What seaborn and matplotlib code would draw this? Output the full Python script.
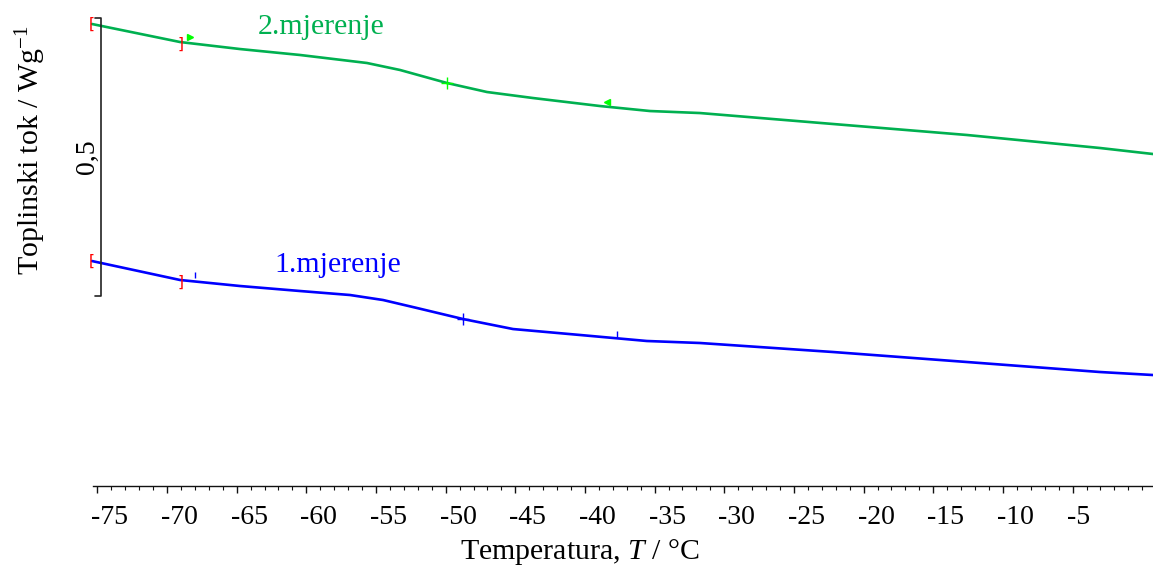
import numpy as np
import pandas as pd
import matplotlib
matplotlib.use("Agg")
import matplotlib.pyplot as plt
import matplotlib.transforms as mtransforms
from matplotlib.ticker import MultipleLocator, FixedLocator
import seaborn as sns

# ---- data ----
temp_2 = [-75.38, -69.06, -64.76, -60.45, -55.65, -53.27, -49.9, -47.03,
          -43.73, -38.92, -35.33, -31.75, -22.2, -12.58, -3.03, 0.77]
flow_2 = [0.7892, 0.7568, 0.7442, 0.7335, 0.7191, 0.7065, 0.6831, 0.6669,
          0.6561, 0.6417, 0.6327, 0.6291, 0.6094, 0.5896, 0.5662, 0.5554]
temp_1 = [-75.38, -69.06, -64.76, -60.45, -56.86, -54.49, -52.05, -48.75,
          -45.16, -40.35, -35.56, -31.75, -22.2, -12.58, -3.03, 0.77]
flow_1 = [0.3629, 0.3288, 0.3180, 0.3090, 0.3018, 0.2928, 0.2784, 0.2586,
          0.2406, 0.2299, 0.2191, 0.2155, 0.1993, 0.1813, 0.1633, 0.1579]
series_names = ["2.mjerenje", "1.mjerenje"]
series_colors = ["#00B050", "#0000FF"]
marker_colors = ["#00FF00", "#0000FF"]
# glass transition analysis points (onset, midpoint, end) per series
tg_onset = [-68.35, -68.0]
tg_mid = [-49.9, -48.75]
tg_end = [-38.4, -37.7]
x_ticks = list(range(-75, 0, 5))
scale_bar_value = 0.5
scale_bar_label = "0,5"

sns.set_style("white")
plt.rcParams["font.family"] = ["Liberation Serif", "DejaVu Serif"]
plt.rcParams["mathtext.fontset"] = "custom"
plt.rcParams["mathtext.rm"] = "Liberation Serif"
plt.rcParams["mathtext.it"] = "Liberation Serif:italic"
plt.rcParams["text.color"] = "black"
plt.rcParams["xtick.color"] = "black"
plt.rcParams["xtick.labelcolor"] = "black"

df = pd.concat([
    pd.DataFrame({"T": temp_2, "q": flow_2, "s": series_names[0]}),
    pd.DataFrame({"T": temp_1, "q": flow_1, "s": series_names[1]}),
])

W, H = 1153, 572
fig = plt.figure(figsize=(W / 100, H / 100), dpi=100)
ax = fig.add_axes([93 / W, (H - 486) / H, 1 - 93 / W, 486 / H])

sns.lineplot(data=df, x="T", y="q", hue="s", palette=dict(zip(series_names, series_colors)),
             ax=ax, legend=False, linewidth=1.9, sort=False, estimator=None)
for ln in ax.lines:
    ln.set_clip_on(False)
ax.set_xlabel("")
ax.set_ylabel("")

ax.set_xlim(-75.31, 0.77)
ax.set_ylim(-0.0417, 0.8324)

# spines / ticks
for side in ["left", "top", "right"]:
    ax.spines[side].set_visible(False)
ax.spines["bottom"].set_color("#111111")
ax.spines["bottom"].set_linewidth(1.0)
ax.set_yticks([])
ax.xaxis.set_major_locator(FixedLocator(x_ticks))
ax.xaxis.set_minor_locator(MultipleLocator(1))
ax.set_xticklabels([str(t) for t in x_ticks])
ax.tick_params(axis="x", which="major", direction="out", length=5, width=1.0,
               color="#111111", labelcolor="black", labelsize=20, pad=9, bottom=True)
ax.tick_params(axis="x", which="minor", direction="out", length=3, width=0.8,
               color="#111111", bottom=True)
offset = mtransforms.ScaledTranslation(-0.06, 0, fig.dpi_scale_trans)
for lab in ax.get_xticklabels():
    lab.set_horizontalalignment("left")
    lab.set_transform(lab.get_transform() + offset)

# axis labels
fig.text(580 / W, 1 - 552 / H, r"Temperatura, $T$ / °C", ha="center", va="center",
         fontsize=21.5, color="black")
fig.text(31 / W, 1 - 150 / H, r"Toplinski tok / Wg$^{\mathrm{-1}}$", ha="center", va="center",
         rotation=90, fontsize=21.5, color="black")

# scale bar
bar_x, cap_x = -74.73, -75.16
bar_lo = 0.3
bar_hi = bar_lo + scale_bar_value
ax.plot([cap_x, bar_x, bar_x, cap_x], [bar_hi, bar_hi, bar_lo, bar_lo], color="#222222",
        linewidth=1.2, clip_on=False)
ax.text(-75.74, (bar_lo + bar_hi) / 2, scale_bar_label, rotation=90, ha="center", va="center",
        fontsize=20, color="black", clip_on=False)

# series labels
ax.text(-63.5, 0.784, series_names[0], color=series_colors[0], fontsize=21.5, ha="left", va="center")
ax.text(-62.3, 0.355, series_names[1], color=series_colors[1], fontsize=21.5, ha="left", va="center")

# DSC analysis markers
for i, (tt, ff) in enumerate([(temp_2, flow_2), (temp_1, flow_1)]):
    y0 = np.interp(tt[0], tt, ff)
    ax.text(tt[0] - 0.05, y0, "[", color="red", fontsize=11, ha="center", va="center",
            family="DejaVu Sans", clip_on=False)
    x_br = tt[1]
    ax.text(x_br, np.interp(x_br, tt, ff) - 0.004, "]", color="red", fontsize=11, ha="center",
            va="center", family="DejaVu Sans")
    ax.plot([tg_onset[i]], [np.interp(tg_onset[i], tt, ff) + 0.012],
            marker=">" if i == 0 else "|", color=marker_colors[i], markersize=5, linestyle="none")
    ax.plot([tg_mid[i]], [np.interp(tg_mid[i], tt, ff)], marker="+", color=marker_colors[i],
            markersize=8, markeredgewidth=1.0, linestyle="none")
    ye = np.interp(tg_end[i], tt, ff)
    ax.plot([tg_end[i]], [ye + 0.008], marker="<" if i == 0 else "|", color=marker_colors[i],
            markersize=5, linestyle="none")

fig.savefig("out.png", dpi=100)
